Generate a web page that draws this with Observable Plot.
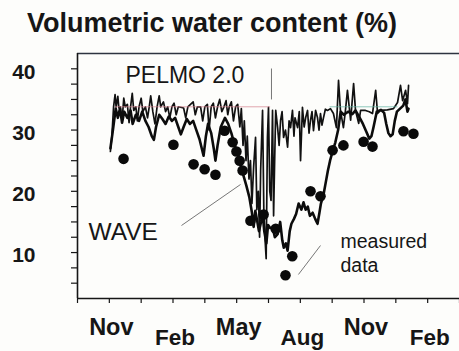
<!DOCTYPE html>
<html>
<head>
<meta charset="utf-8">
<script src="https://cdn.jsdelivr.net/npm/d3@7"></script>
<script src="https://cdn.jsdelivr.net/npm/@observablehq/plot@0.6"></script>
<style>
  html, body { margin: 0; padding: 0; background: #fdfdfb; }
  body { width: 459px; height: 351px; position: relative; overflow: hidden; }
  #title {
    position: absolute; left: 27px; top: 10px;
    font: bold 27px/26px "Liberation Sans", Arial, sans-serif; color: #161616;
    white-space: nowrap;
  }
  #chart { position: absolute; left: 0; top: 40px; }
</style>
</head>
<body>
<div id="title">Volumetric water content (%)</div>
<div id="chart"></div>
<script>
// x is time in months counted from 1 November; y is volumetric water content (%).

// Tick labels along the time axis (one every three months)
const monthLabels = ["Nov", "Feb", "May", "Aug", "Nov", "Feb"];
const monthLabelAt = [0, 3, 6, 9, 12, 15];
const monthTicks = [-1.5, 0, 1.5, 3, 4.5, 6, 7.5, 9, 10.5, 12, 13.5, 15, 16.5];

// Water-content axis
const yLabelTicks = [10, 20, 30, 40];
const yMinorTicks = [5, 7.5, 10, 12.5, 15, 17.5, 20, 22.5, 25, 27.5, 30, 32.5, 35, 37.5, 40];

// WAVE simulation [month, %]
const wave = [
  [0.05,27.0],[0.15,29.5],[0.3,33.5],[0.4,32.0],[0.5,33.5],[0.6,31.2],[0.7,33.0],[0.85,32.0],
  [1.0,33.2],[1.1,31.0],[1.25,32.5],[1.4,31.5],[1.55,33.0],[1.7,31.5],[1.85,30.5],[2.0,29.0],
  [2.1,28.4],[2.2,30.5],[2.35,32.5],[2.5,31.8],[2.65,31.0],[2.8,32.2],[2.95,31.5],[3.1,32.0],
  [3.25,30.5],[3.37,29.3],[3.5,30.5],[3.65,31.8],[3.8,31.0],[3.95,31.5],[4.1,30.0],[4.25,28.5],
  [4.44,25.8],[4.55,29.0],[4.65,31.0],[4.8,29.5],[4.92,27.0],[5.0,25.0],[5.1,27.5],[5.25,30.5],
  [5.45,32.0],[5.6,31.0],[5.75,29.5],[5.95,27.0],[6.1,25.5],[6.3,22.8],[6.45,21.0],[6.6,19.0],
  [6.72,16.5],[6.8,14.2],[6.88,16.8],[6.95,15.5],[7.05,13.5],[7.15,15.0],[7.22,16.5],[7.3,13.5],
  [7.4,11.5],[7.48,14.5],[7.58,14.0],[7.7,14.0],[7.8,12.5],[7.93,13.0],[8.05,15.0],[8.15,12.0],
  [8.22,10.8],[8.32,11.5],[8.4,10.3],[8.5,13.5],[8.58,14.7],[8.7,15.5],[8.8,16.3],[8.92,18.0],
  [9.05,17.0],[9.15,18.2],[9.25,17.0],[9.35,17.5],[9.45,16.0],[9.58,16.5],[9.7,15.5],[9.81,14.7],
  [9.9,16.5],[9.97,18.0],[10.1,19.6],[10.2,21.5],[10.3,23.4],[10.4,25.0],[10.52,26.5],[10.65,28.0],
  [10.78,30.0],[10.9,33.0],[11.05,32.5],[11.25,33.0],[11.45,32.6],[11.6,33.2],[11.8,32.0],[11.95,31.0],
  [12.1,29.8],[12.25,28.6],[12.35,29.0],[12.45,30.5],[12.6,33.0],[12.8,33.3],[12.95,32.8],[13.05,31.0],
  [13.15,29.5],[13.25,29.0],[13.35,29.3],[13.45,31.5],[13.55,33.0],[13.7,33.5],[13.85,34.0],[13.95,35.0],
  [14.05,33.0],[14.1,33.5]
];

// PELMO 2.0 simulation [month, %]
const pelmo = [
  [0.05,26.5],[0.12,29.0],[0.2,33.8],[0.27,35.8],[0.32,33.8],[0.4,35.5],[0.45,33.6],[0.52,33.8],
  [0.6,31.5],[0.68,35.2],[0.75,33.8],[0.85,34.2],[0.93,31.2],[1.0,33.8],[1.08,36.0],[1.15,33.2],
  [1.25,33.8],[1.32,31.5],[1.4,33.8],[1.5,35.2],[1.58,33.0],[1.7,33.8],[1.8,32.0],[1.88,33.8],
  [1.95,35.6],[2.05,33.0],[2.15,31.0],[2.25,33.8],[2.35,35.6],[2.42,33.8],[2.55,34.6],[2.65,33.0],
  [2.75,33.8],[2.85,32.0],[2.95,33.8],[3.05,34.4],[3.15,32.5],[3.25,33.8],[3.5,33.6],[3.6,32.0],
  [3.7,33.8],[3.95,34.6],[4.05,32.5],[4.15,33.8],[4.3,33.8],[4.4,31.5],[4.5,33.8],[4.62,34.2],
  [4.7,30.0],[4.8,33.8],[4.9,34.4],[5.0,32.0],[5.1,33.8],[5.2,35.0],[5.3,33.0],[5.4,33.8],
  [5.5,34.8],[5.58,32.5],[5.65,33.8],[5.75,34.6],[5.85,31.5],[5.95,33.8],[6.05,34.2],[6.15,30.5],
  [6.22,33.5],[6.3,27.5],[6.36,31.5],[6.44,25.0],[6.5,29.0],[6.58,22.0],[6.65,25.0],[6.72,18.0],
  [6.8,24.0],[6.89,28.8],[6.95,17.0],[7.02,20.0],[7.08,12.5],[7.13,23.4],[7.22,33.2],[7.28,17.0],
  [7.34,12.0],[7.39,9.0],[7.45,28.8],[7.5,33.7],[7.56,20.0],[7.62,18.5],[7.69,33.2],[7.74,16.0],
  [7.79,25.0],[7.84,33.2],[7.93,30.4],[8.0,27.5],[8.07,31.6],[8.14,33.0],[8.21,28.8],[8.3,30.0],
  [8.4,27.2],[8.47,31.5],[8.54,30.4],[8.63,33.2],[8.7,29.0],[8.75,32.0],[8.87,30.4],[8.95,33.0],
  [9.01,25.0],[9.1,33.7],[9.18,30.5],[9.25,32.0],[9.34,33.2],[9.41,29.5],[9.48,31.6],[9.55,33.0],
  [9.62,29.9],[9.72,33.2],[9.81,32.0],[9.88,30.0],[9.95,32.7],[10.02,30.8],[10.09,32.0],[10.18,33.4],
  [10.28,33.2],[10.42,33.5],[10.56,32.7],[10.7,30.4],[10.8,38.1],[10.89,33.2],[11.03,30.4],[11.12,33.0],
  [11.22,36.5],[11.37,31.6],[11.51,37.6],[11.6,33.2],[11.75,31.1],[11.84,33.2],[12.07,33.2],[12.25,33.0],
  [12.4,32.7],[12.55,36.5],[12.64,32.7],[12.78,33.2],[13.1,33.3],[13.39,33.5],[13.58,34.5],[13.72,37.3],
  [13.82,34.8],[13.96,36.5],[14.05,34.3],[14.1,37.3]
];

// PELMO upper limit (field capacity) where the curve sits flat
const capLevel = 33.8;
const capSpans = [[0.3, 7.6], [10.4, 13.6]];

// Measured data [month, %]
const measured = [
  [0.67,25.3],[3.02,27.6],[3.97,24.4],[4.49,23.6],[5.0,22.7],
  [5.43,29.9],[5.81,28.0],[5.99,26.5],[6.14,25.0],[6.28,23.4],
  [6.65,15.2],[7.27,16.2],[7.84,13.9],[8.3,6.3],[8.62,9.4],
  [9.48,20.0],[9.95,19.2],[10.52,26.7],[11.03,27.5],[11.98,28.1],
  [12.4,27.3],[13.86,29.8],[14.33,29.4]
];

// Series labels and their leader lines
const labels = [
  {text: "PELMO 2.0", x: 0.76, y: 39.2, size: 23},
  {text: "WAVE", x: -0.98, y: 13.6, size: 24.5},
  {text: "measured\ndata", x: 10.89, y: 10.1, size: 19.5}
];
const leaders = [
  {x1: 7.64, y1: 40.05, x2: 7.64, y2: 35.0},
  {x1: 3.40, y1: 14.42, x2: 6.18, y2: 21.11},
  {x1: 8.91, y1: 6.42, x2: 9.95, y2: 11.15}
];

const font = '"Liberation Sans", Arial, sans-serif';
const monthName = d => monthLabels[monthLabelAt.indexOf(d)];

const chart = Plot.plot({
  width: 459,
  height: 311,
  marginLeft: 77,
  marginRight: 0,
  marginTop: 13,
  marginBottom: 53,
  style: {background: "transparent", fontFamily: font, color: "#161616"},
  x: {type: "linear", domain: [-1.5, 16.5]},
  y: {domain: [2.5, 42.5]},
  marks: [
    // frame: top border, left and bottom axis lines
    Plot.ruleY([42.5], {stroke: "#2e3440", strokeWidth: 1.6}),
    Plot.ruleX([-1.5], {stroke: "#161616", strokeWidth: 1.6}),
    Plot.ruleY([2.5], {stroke: "#161616", strokeWidth: 1.6}),

    // y axis: minor ticks and labelled ticks
    Plot.axisY(yMinorTicks, {tickSize: 6, tickFormat: () => "", label: null, stroke: "#161616", strokeWidth: 1.2}),
    Plot.axisY(yLabelTicks, {tickSize: 0, tickPadding: 42, label: null, fontSize: 21, fontWeight: "bold", dy: 3}),

    // x axis: ticks every month and a half, labels on two staggered rows
    Plot.axisX(monthTicks, {tickSize: 5, tickFormat: () => "", label: null, stroke: "#161616", strokeWidth: 1.2}),
    Plot.axisX(monthLabelAt.filter((d, i) => i % 2 === 0), {
      tickSize: 0, tickPadding: 20, label: null, fontSize: 23.5, fontWeight: "bold", dx: 2,
      tickFormat: monthName
    }),
    Plot.axisX(monthLabelAt.filter((d, i) => i % 2 === 1), {
      tickSize: 0, tickPadding: 31, label: null, fontSize: 22.5, fontWeight: "bold", dx: 2,
      tickFormat: monthName
    }),

    // simulated curves
    Plot.line(pelmo, {x: d => d[0], y: d => d[1], stroke: "#111", strokeWidth: 1.7, strokeLinejoin: "round"}),
    Plot.line(wave, {x: d => d[0], y: d => d[1], stroke: "#0c0c0c", strokeWidth: 2.6, strokeLinejoin: "round"}),
    Plot.ruleY(capSpans, {y: () => capLevel, x1: d => d[0], x2: d => d[1],
      stroke: (d, i) => i === 0 ? "#d4828f" : "#5fb3a2", strokeWidth: 1, strokeOpacity: 0.7}),

    // measured values
    Plot.dot(measured, {x: d => d[0], y: d => d[1], r: 5.3, fill: "#0a0a0a", stroke: "none"}),

    // labels and leader lines
    Plot.link(leaders, {x1: "x1", y1: "y1", x2: "x2", y2: "y2", stroke: "#777", strokeWidth: 1}),
    Plot.text(labels, {x: "x", y: "y", text: "text", fontSize: d => d.size, textAnchor: "start",
      lineAnchor: "middle", lineHeight: 1.25, fill: "#161616", fontWeight: "normal"})
  ]
});

document.getElementById("chart").appendChild(chart);
</script>
</body>
</html>
